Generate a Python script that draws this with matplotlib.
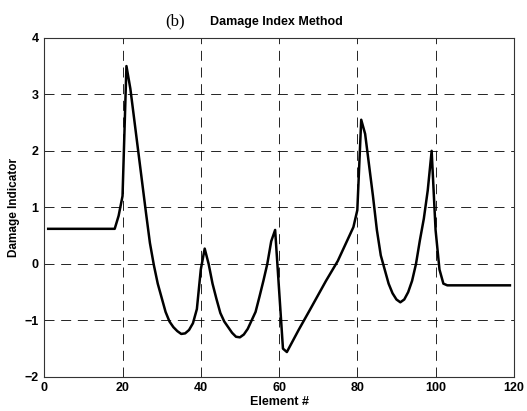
import numpy as np
import matplotlib
matplotlib.use("Agg")
import matplotlib.pyplot as plt

# damage indicator (element number, value)
element = [1, 18, 19, 20, 21, 22, 23, 24, 25, 26, 27, 28, 29, 30, 31, 32, 33,
           34, 35, 36, 37, 38, 39, 40, 41, 42, 43, 44, 45, 46, 47, 48, 49, 50,
           51, 52, 53, 54, 55, 56, 57, 58, 59, 61, 62, 65, 68, 72, 75, 77, 79,
           80, 81, 82, 83, 84, 85, 86, 87, 88, 89, 90, 91, 92, 93, 94, 95, 96,
           97, 98, 99, 100, 101, 102, 103, 119]
damage = [0.62, 0.62, 0.85, 1.2, 3.5, 3.1, 2.55, 2.0, 1.45, 0.9, 0.37, -0.02,
          -0.35, -0.6, -0.85, -1.02, -1.12, -1.19, -1.24, -1.23, -1.17, -1.05,
          -0.8, -0.1, 0.27, 0.0, -0.35, -0.62, -0.87, -1.02, -1.12, -1.22,
          -1.29, -1.3, -1.25, -1.15, -1.0, -0.85, -0.58, -0.3, 0.0, 0.4, 0.6,
          -1.5, -1.56, -1.17, -0.8, -0.3, 0.05, 0.35, 0.65, 0.95, 2.55, 2.3,
          1.75, 1.2, 0.6, 0.15, -0.1, -0.35, -0.52, -0.63, -0.68, -0.63, -0.5,
          -0.3, 0.0, 0.42, 0.8, 1.3, 2.0, 0.6, -0.1, -0.35, -0.38, -0.38]

xticks = [0, 20, 40, 60, 80, 100, 120]
yticks = [-2, -1, 0, 1, 2, 3, 4]

fig = plt.figure(figsize=(5.27, 4.11), dpi=100)
ax = fig.add_axes([0.084, 0.083, 0.891, 0.825])

ax.plot(element, damage, color="black", linewidth=1.8)

ax.set_xlim(0, 120)
ax.set_ylim(-2, 4)
ax.set_xticks(xticks)
ax.set_yticks(yticks)
ax.grid(True, color="black", linestyle=(0, (12, 8)), linewidth=0.6)
ax.tick_params(length=0, pad=4)
for lab in ax.get_xticklabels() + ax.get_yticklabels():
    lab.set_fontfamily("Liberation Sans")
    lab.set_fontweight("bold")
    lab.set_fontsize(9)
for s in ax.spines.values():
    s.set_linewidth(0.8)
    s.set_color("#333333")

ax.set_xlabel("Element #", family="Liberation Sans", weight="bold",
              fontsize=9, labelpad=1)
ax.set_ylabel("Damage Indicator", family="Liberation Sans", weight="bold",
              fontsize=8.5, labelpad=3)

fig.text(0.332, 0.948, "(b)", family="Liberation Serif", fontsize=12,
         ha="center", va="center")
fig.text(0.524, 0.946, "Damage Index Method", family="Liberation Sans",
         weight="bold", fontsize=9, ha="center", va="center")

fig.savefig("out.png", dpi=100)
